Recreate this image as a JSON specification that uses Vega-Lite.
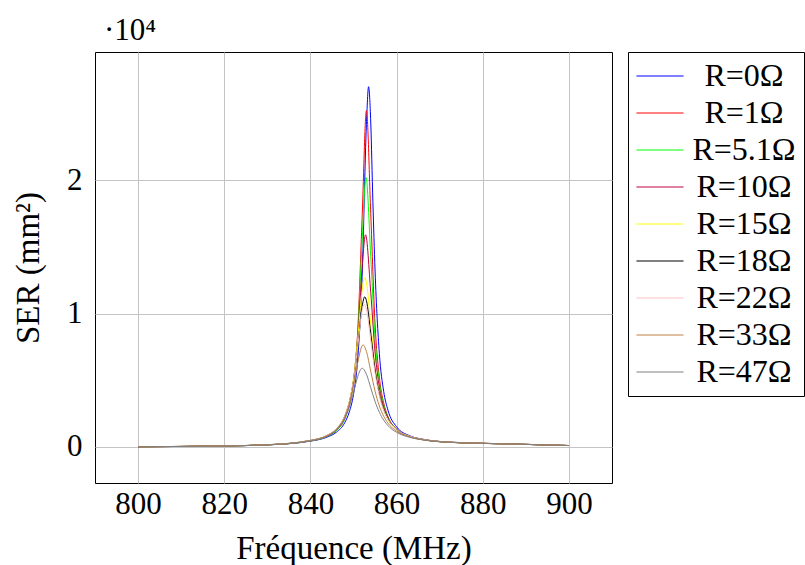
{
  "$schema": "https://vega.github.io/schema/vega-lite/v6.json",
  "autosize": "none",
  "width": 517,
  "height": 431,
  "padding": {"left": 95, "top": 52, "right": 193, "bottom": 82},
  "background": "white",
  "title": {"text": "·10⁴", "anchor": "start", "frame": "group", "dx": 9, "offset": 5, "font": "Liberation Serif, DejaVu Serif, serif", "fontSize": 31, "fontWeight": "normal", "color": "black"},
  "data": {"values": [
    {"R":"R=0Ω","f":800,"s":18},{"R":"R=0Ω","f":810,"s":38},{"R":"R=0Ω","f":820,"s":77},{"R":"R=0Ω","f":830,"s":156},{"R":"R=0Ω","f":840,"s":437},{"R":"R=0Ω","f":844,"s":754},{"R":"R=0Ω","f":846,"s":1099},{"R":"R=0Ω","f":848,"s":1843},{"R":"R=0Ω","f":849,"s":2603},{"R":"R=0Ω","f":850,"s":3944},{"R":"R=0Ω","f":851,"s":6666},{"R":"R=0Ω","f":852,"s":12790},{"R":"R=0Ω","f":853,"s":24165},{"R":"R=0Ω","f":853.5,"s":27000},{"R":"R=0Ω","f":854,"s":24350},{"R":"R=0Ω","f":854.5,"s":18370},{"R":"R=0Ω","f":855,"s":13263},{"R":"R=0Ω","f":856,"s":7016},{"R":"R=0Ω","f":857,"s":4175},{"R":"R=0Ω","f":858,"s":2760},{"R":"R=0Ω","f":860,"s":1510},{"R":"R=0Ω","f":863,"s":845},{"R":"R=0Ω","f":866,"s":579},{"R":"R=0Ω","f":870,"s":407},{"R":"R=0Ω","f":880,"s":271},{"R":"R=0Ω","f":890,"s":193},{"R":"R=0Ω","f":900,"s":106},
    {"R":"R=1Ω","f":800,"s":19},{"R":"R=1Ω","f":810,"s":38},{"R":"R=1Ω","f":820,"s":78},{"R":"R=1Ω","f":830,"s":159},{"R":"R=1Ω","f":840,"s":457},{"R":"R=1Ω","f":844,"s":812},{"R":"R=1Ω","f":846,"s":1218},{"R":"R=1Ω","f":848,"s":2138},{"R":"R=1Ω","f":849,"s":3121},{"R":"R=1Ω","f":850,"s":4950},{"R":"R=1Ω","f":851,"s":8828},{"R":"R=1Ω","f":852,"s":17149},{"R":"R=1Ω","f":853,"s":25200},{"R":"R=1Ω","f":854,"s":17518},{"R":"R=1Ω","f":855,"s":9212},{"R":"R=1Ω","f":856,"s":5216},{"R":"R=1Ω","f":857,"s":3300},{"R":"R=1Ω","f":858,"s":2283},{"R":"R=1Ω","f":860,"s":1327},{"R":"R=1Ω","f":863,"s":780},{"R":"R=1Ω","f":866,"s":548},{"R":"R=1Ω","f":870,"s":393},{"R":"R=1Ω","f":880,"s":267},{"R":"R=1Ω","f":890,"s":191},{"R":"R=1Ω","f":900,"s":105},
    {"R":"R=5.1Ω","f":800,"s":18},{"R":"R=5.1Ω","f":810,"s":38},{"R":"R=5.1Ω","f":820,"s":77},{"R":"R=5.1Ω","f":830,"s":157},{"R":"R=5.1Ω","f":840,"s":453},{"R":"R=5.1Ω","f":844,"s":806},{"R":"R=5.1Ω","f":846,"s":1209},{"R":"R=5.1Ω","f":848,"s":2125},{"R":"R=5.1Ω","f":849,"s":3098},{"R":"R=5.1Ω","f":850,"s":4883},{"R":"R=5.1Ω","f":851,"s":8510},{"R":"R=5.1Ω","f":852,"s":15398},{"R":"R=5.1Ω","f":852.9,"s":20200},{"R":"R=5.1Ω","f":854,"s":14304},{"R":"R=5.1Ω","f":855,"s":8130},{"R":"R=5.1Ω","f":856,"s":4840},{"R":"R=5.1Ω","f":857,"s":3151},{"R":"R=5.1Ω","f":858,"s":2218},{"R":"R=5.1Ω","f":860,"s":1314},{"R":"R=5.1Ω","f":863,"s":780},{"R":"R=5.1Ω","f":866,"s":551},{"R":"R=5.1Ω","f":870,"s":396},{"R":"R=5.1Ω","f":880,"s":268},{"R":"R=5.1Ω","f":890,"s":192},{"R":"R=5.1Ω","f":900,"s":106},
    {"R":"R=10Ω","f":800,"s":19},{"R":"R=10Ω","f":810,"s":39},{"R":"R=10Ω","f":820,"s":80},{"R":"R=10Ω","f":830,"s":163},{"R":"R=10Ω","f":840,"s":471},{"R":"R=10Ω","f":844,"s":844},{"R":"R=10Ω","f":846,"s":1271},{"R":"R=10Ω","f":848,"s":2228},{"R":"R=10Ω","f":849,"s":3224},{"R":"R=10Ω","f":850,"s":4984},{"R":"R=10Ω","f":851,"s":8275},{"R":"R=10Ω","f":852,"s":13430},{"R":"R=10Ω","f":852.8,"s":15900},{"R":"R=10Ω","f":854,"s":11593},{"R":"R=10Ω","f":855,"s":7118},{"R":"R=10Ω","f":856,"s":4466},{"R":"R=10Ω","f":857,"s":3001},{"R":"R=10Ω","f":858,"s":2153},{"R":"R=10Ω","f":860,"s":1302},{"R":"R=10Ω","f":863,"s":783},{"R":"R=10Ω","f":866,"s":555},{"R":"R=10Ω","f":870,"s":399},{"R":"R=10Ω","f":880,"s":270},{"R":"R=10Ω","f":890,"s":193},{"R":"R=10Ω","f":900,"s":107},
    {"R":"R=15Ω","f":800,"s":20},{"R":"R=15Ω","f":810,"s":40},{"R":"R=15Ω","f":820,"s":82},{"R":"R=15Ω","f":830,"s":167},{"R":"R=15Ω","f":840,"s":487},{"R":"R=15Ω","f":844,"s":882},{"R":"R=15Ω","f":846,"s":1337},{"R":"R=15Ω","f":848,"s":2352},{"R":"R=15Ω","f":849,"s":3388},{"R":"R=15Ω","f":850,"s":5147},{"R":"R=15Ω","f":851,"s":8116},{"R":"R=15Ω","f":852,"s":11758},{"R":"R=15Ω","f":852.6,"s":12700},{"R":"R=15Ω","f":853,"s":12318},{"R":"R=15Ω","f":854,"s":9217},{"R":"R=15Ω","f":855,"s":6057},{"R":"R=15Ω","f":856,"s":4021},{"R":"R=15Ω","f":857,"s":2807},{"R":"R=15Ω","f":858,"s":2066},{"R":"R=15Ω","f":860,"s":1286},{"R":"R=15Ω","f":863,"s":788},{"R":"R=15Ω","f":866,"s":562},{"R":"R=15Ω","f":870,"s":405},{"R":"R=15Ω","f":880,"s":274},{"R":"R=15Ω","f":890,"s":195},{"R":"R=15Ω","f":900,"s":108},
    {"R":"R=18Ω","f":800,"s":20},{"R":"R=18Ω","f":810,"s":41},{"R":"R=18Ω","f":820,"s":82},{"R":"R=18Ω","f":830,"s":168},{"R":"R=18Ω","f":840,"s":491},{"R":"R=18Ω","f":844,"s":887},{"R":"R=18Ω","f":846,"s":1339},{"R":"R=18Ω","f":848,"s":2329},{"R":"R=18Ω","f":849,"s":3318},{"R":"R=18Ω","f":850,"s":4944},{"R":"R=18Ω","f":851,"s":7546},{"R":"R=18Ω","f":852,"s":10518},{"R":"R=18Ω","f":852.6,"s":11250},{"R":"R=18Ω","f":853,"s":10964},{"R":"R=18Ω","f":854,"s":8535},{"R":"R=18Ω","f":855,"s":5849},{"R":"R=18Ω","f":856,"s":3990},{"R":"R=18Ω","f":857,"s":2831},{"R":"R=18Ω","f":858,"s":2103},{"R":"R=18Ω","f":860,"s":1320},{"R":"R=18Ω","f":863,"s":810},{"R":"R=18Ω","f":866,"s":577},{"R":"R=18Ω","f":870,"s":414},{"R":"R=18Ω","f":880,"s":278},{"R":"R=18Ω","f":890,"s":197},{"R":"R=18Ω","f":900,"s":109},
    {"R":"R=22Ω","f":800,"s":20},{"R":"R=22Ω","f":810,"s":41},{"R":"R=22Ω","f":820,"s":82},{"R":"R=22Ω","f":830,"s":168},{"R":"R=22Ω","f":840,"s":493},{"R":"R=22Ω","f":844,"s":895},{"R":"R=22Ω","f":846,"s":1356},{"R":"R=22Ω","f":848,"s":2371},{"R":"R=22Ω","f":849,"s":3380},{"R":"R=22Ω","f":850,"s":5025},{"R":"R=22Ω","f":851,"s":7573},{"R":"R=22Ω","f":852,"s":10227},{"R":"R=22Ω","f":852.5,"s":10700},{"R":"R=22Ω","f":853,"s":10312},{"R":"R=22Ω","f":854,"s":8006},{"R":"R=22Ω","f":855,"s":5564},{"R":"R=22Ω","f":856,"s":3854},{"R":"R=22Ω","f":857,"s":2767},{"R":"R=22Ω","f":858,"s":2074},{"R":"R=22Ω","f":860,"s":1316},{"R":"R=22Ω","f":863,"s":814},{"R":"R=22Ω","f":866,"s":581},{"R":"R=22Ω","f":870,"s":418},{"R":"R=22Ω","f":880,"s":279},{"R":"R=22Ω","f":890,"s":198},{"R":"R=22Ω","f":900,"s":110},
    {"R":"R=33Ω","f":800,"s":18},{"R":"R=33Ω","f":810,"s":38},{"R":"R=33Ω","f":820,"s":78},{"R":"R=33Ω","f":830,"s":161},{"R":"R=33Ω","f":840,"s":473},{"R":"R=33Ω","f":844,"s":859},{"R":"R=33Ω","f":846,"s":1301},{"R":"R=33Ω","f":848,"s":2259},{"R":"R=33Ω","f":849,"s":3174},{"R":"R=33Ω","f":850,"s":4550},{"R":"R=33Ω","f":851,"s":6345},{"R":"R=33Ω","f":852.2,"s":7650},{"R":"R=33Ω","f":853,"s":7157},{"R":"R=33Ω","f":854,"s":5683},{"R":"R=33Ω","f":855,"s":4191},{"R":"R=33Ω","f":856,"s":3073},{"R":"R=33Ω","f":857,"s":2307},{"R":"R=33Ω","f":858,"s":1788},{"R":"R=33Ω","f":860,"s":1188},{"R":"R=33Ω","f":863,"s":762},{"R":"R=33Ω","f":866,"s":555},{"R":"R=33Ω","f":870,"s":405},{"R":"R=33Ω","f":880,"s":276},{"R":"R=33Ω","f":890,"s":197},{"R":"R=33Ω","f":900,"s":109},
    {"R":"R=47Ω","f":800,"s":18},{"R":"R=47Ω","f":810,"s":37},{"R":"R=47Ω","f":820,"s":76},{"R":"R=47Ω","f":830,"s":157},{"R":"R=47Ω","f":840,"s":463},{"R":"R=47Ω","f":844,"s":840},{"R":"R=47Ω","f":846,"s":1266},{"R":"R=47Ω","f":848,"s":2157},{"R":"R=47Ω","f":849,"s":2964},{"R":"R=47Ω","f":850,"s":4069},{"R":"R=47Ω","f":851,"s":5296},{"R":"R=47Ω","f":852,"s":5900},{"R":"R=47Ω","f":853,"s":5448},{"R":"R=47Ω","f":854,"s":4440},{"R":"R=47Ω","f":855,"s":3414},{"R":"R=47Ω","f":856,"s":2602},{"R":"R=47Ω","f":857,"s":2016},{"R":"R=47Ω","f":858,"s":1601},{"R":"R=47Ω","f":860,"s":1099},{"R":"R=47Ω","f":863,"s":725},{"R":"R=47Ω","f":866,"s":536},{"R":"R=47Ω","f":870,"s":396},{"R":"R=47Ω","f":880,"s":273},{"R":"R=47Ω","f":890,"s":195},{"R":"R=47Ω","f":900,"s":108}
  ]},
  "mark": {"type": "line", "interpolate": "monotone", "strokeWidth": 1},
  "encoding": {
    "x": {"field": "f", "type": "quantitative",
      "scale": {"domain": [790, 910], "nice": false, "zero": false},
      "axis": {"title": "Fréquence (MHz)", "values": [800, 820, 840, 860, 880, 900], "labelPadding": 6, "titlePadding": 13}},
    "y": {"field": "s", "type": "quantitative",
      "scale": {"domain": [-2700, 29600], "nice": false, "zero": false},
      "axis": {"title": "SER (mm²)", "values": [0, 10000, 20000], "labelExpr": "datum.value / 10000", "labelPadding": 13, "titlePadding": 21}},
    "color": {"field": "R", "type": "nominal",
      "scale": {"domain": ["R=0Ω","R=1Ω","R=5.1Ω","R=10Ω","R=15Ω","R=18Ω","R=22Ω","R=33Ω","R=47Ω"],
                "range": ["#0000ff","#ff0000","#00ff00","#bf0040","#ffff00","#000000","#ffbfbf","#bf8040","#808080"]},
      "legend": {"title": null,
        "encode": {"symbols": {"update": {"stroke": {"scale": "color", "field": "value"}, "strokeWidth": {"value": 1}}}}}}
  },
  "config": {
    "font": "Liberation Serif, DejaVu Serif, serif",
    "view": {"stroke": "#000000", "strokeWidth": 1},
    "axis": {
      "domain": false, "ticks": false,
      "grid": true, "gridColor": "#c4c4c4", "gridWidth": 1,
      "labelFont": "Liberation Serif, DejaVu Serif, serif", "labelFontSize": 31, "labelColor": "black",
      "titleFont": "Liberation Serif, DejaVu Serif, serif", "titleFontSize": 33, "titleFontWeight": "normal", "titleColor": "black"
    },
    "legend": {
      "orient": "right", "offset": 16,
      "padding": 8,
      "strokeColor": "#000000", "fillColor": "white", "strokeWidth": 1,
      "symbolType": "M-1.57,0H1.57", "symbolSize": 900, "symbolStrokeWidth": 1, "symbolOffset": 8,
      "labelFont": "Liberation Serif, DejaVu Serif, serif", "labelFontSize": 32, "labelColor": "black",
      "labelAlign": "center", "labelOffset": 68,
      "rowPadding": 5
    }
  }
}
